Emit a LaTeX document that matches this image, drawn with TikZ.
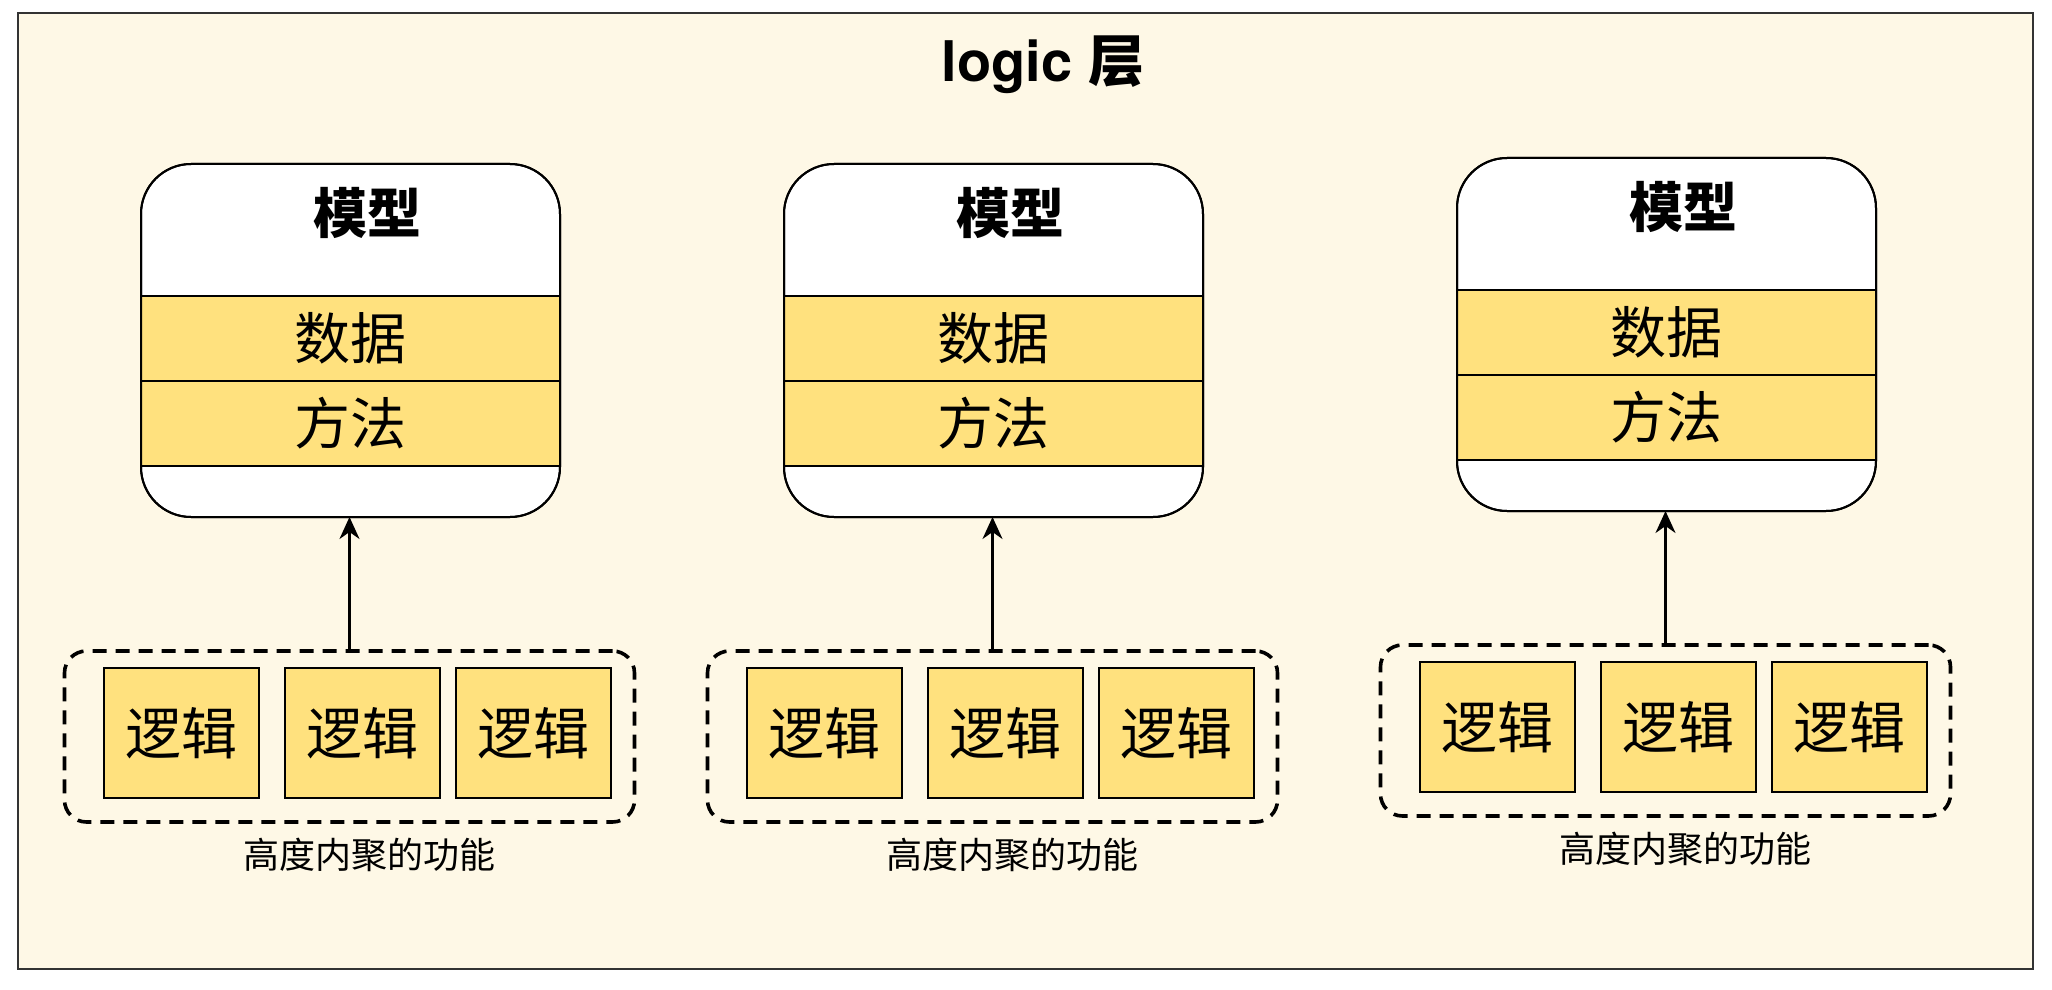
\documentclass[tikz,border=0pt]{standalone}
\usepackage{fontspec}
\newfontfamily\cjk{Noto Sans CJK SC}
\newfontfamily\heros{TeX Gyre Heros}
\usetikzlibrary{positioning,calc,arrows.meta}

\definecolor{bandyellow}{HTML}{FFE17E}
\definecolor{bgcream}{HTML}{FEF8E6}
\definecolor{framegray}{HTML}{333333}

\tikzset{
	modelbox/.style={draw, line width=1pt, rounded corners=25pt, outer sep=0pt,
		minimum width=209.5pt, minimum height=176.5pt, inner sep=0pt},
	band/.style={draw, line width=1pt, fill=bandyellow, minimum width=209.5pt, outer sep=0pt,
		minimum height=42.5pt, inner sep=0pt, font=\cjk\fontsize{28}{28}\selectfont},
	logicbox/.style={draw, line width=0.9pt, fill=bandyellow, minimum width=77.5pt, outer sep=0pt,
		minimum height=65pt, inner sep=0pt, font=\cjk\fontsize{28}{28}\selectfont},
	group/.style={draw, line width=1.8pt, dash pattern=on 7pt off 4.5pt, outer sep=0pt,
		rounded corners=11pt, minimum width=285pt, minimum height=85.5pt, inner sep=0pt},
	caption/.style={font=\cjk\fontsize{18}{18}\selectfont},
	uparrow/.style={-{Stealth[length=11pt,width=10pt,inset=3.5pt]}, line width=1.2pt}
}

\begin{document}
\begin{tikzpicture}[x=0.5pt, y=-0.5pt]
	%\draw[help lines] (0,0) grid (2052,990);
	\useasboundingbox (0,0) rectangle (2052,990);
	\draw[framegray, line width=1.2pt, fill=bgcream] (18,13) rectangle (2033,969);
	\node[font=\fontsize{28}{28}\selectfont] (title) at (1043,65) {\heros\bfseries logic {\cjk\bfseries 层}};
	
	\foreach \i/\x/\y in {1/350.5/164, 2/993.5/164, 3/1666.5/158}{
		% model
		\node[modelbox, fill=white, anchor=north] (m\i) at (\x,\y) {};
		\node[band, anchor=north] (d\i) at ($(m\i.north)+(0,132)$) {数据};
		\node[band, below=0pt of d\i] (f\i) {方法};
		\node[modelbox] (o\i) at (m\i) {};
		\node[font=\cjk\bfseries\fontsize{27}{27}\selectfont] (t\i) at ($(m\i.north)+(17,49)$) {模型};
		% logic
		\node[group, anchor=north] (g\i) at ($(m\i.south)+(-1,134)$) {};
		\node[logicbox] (a\i) at ($(g\i.center)+(-168,-3.5)$) {逻辑};
		\node[logicbox, right=13pt of a\i] (b\i) {逻辑};
		\node[logicbox, right=8pt of b\i] (c\i) {逻辑};
		\node[caption] (l\i) at ($(g\i.south)+(20,33)$) {高度内聚的功能};
		\draw[uparrow] (g\i.north) -- (g\i.north |- m\i.south);
	}
\end{tikzpicture}
\end{document}
